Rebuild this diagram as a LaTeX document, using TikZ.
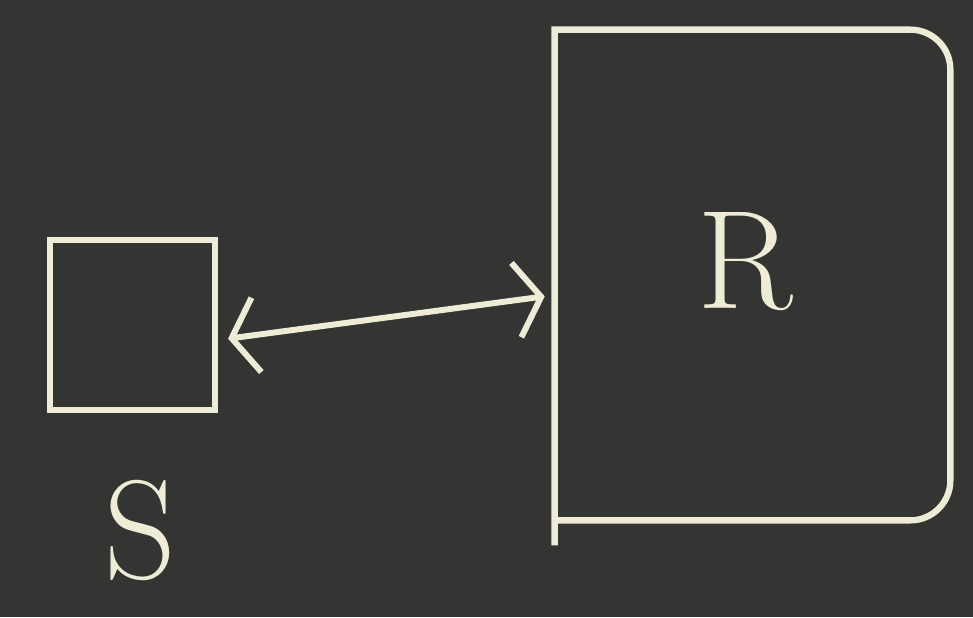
\documentclass[tikz,border=0pt]{standalone}
\usepackage{xcolor}
\usepackage{tikz}
\usetikzlibrary{arrows.meta, positioning, calc}
\definecolor{board}{RGB}{52,52,50}
\definecolor{chalk}{RGB}{238,236,214}
\tikzset{
  chalkbox/.style={rectangle, draw=chalk, line width=3.6pt, inner sep=0pt},
  chalkline/.style={draw=chalk, line width=3.6pt},
  chalktext/.style={text=chalk, font=\fontsize{80}{80}\selectfont},
  chalkarrow/.style={{Straight Barb[length=0.5cm, width=1.5cm, line width=3.4pt]}-{Straight Barb[length=0.5cm, width=1.5cm, line width=3.4pt]}, line width=3.4pt, color=chalk}
}
\begin{document}
\begin{tikzpicture}
  % board
  \fill[board] (0,0) rectangle (19.46,12.34);
  \useasboundingbox (0,0) rectangle (19.46,12.34);

  % small system and its surroundings
  \node[chalkbox, minimum width=3.3cm, minimum height=3.4cm] (sys) at (2.65,5.84) {};
  \node[minimum width=7.9cm, minimum height=9.8cm, inner sep=0pt] (res) at (15.05,6.84) {};
  \draw[chalkline] ([yshift=-0.5cm]res.south west) -- (res.north west)
    [rounded corners=0.8cm] -- (res.north east) -- (res.south east) -- (res.south west);

  % labels
  \node[chalktext] (slab) at (2.8,1.74) {S};
  \node[chalktext] (rlab) at (14.9,7.1) {R};

  % exchange
  \draw[chalkarrow, shorten <=0.2cm, shorten >=0.2cm] ([yshift=-0.3cm]sys.east) -- ([yshift=-0.4cm]res.west);
\end{tikzpicture}
\end{document}
